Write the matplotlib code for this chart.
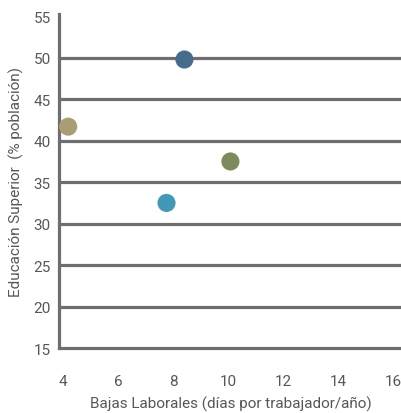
import matplotlib.pyplot as plt

# data
bajas = [4.18, 8.4, 10.07, 7.75]
educacion = [41.7, 49.8, 37.5, 32.5]
colores = ["#aa9d72", "#456c8b", "#7e8a5c", "#3f99b7"]
x_ticks = [4, 6, 8, 10, 12, 14, 16]
y_ticks = [15, 20, 25, 30, 35, 40, 45, 50, 55]

grid_color = "#6f6c72"
text_color = "#58565a"

plt.rcParams["font.family"] = ["Roboto", "DejaVu Sans"]

fig = plt.figure(figsize=(4.02, 4.14), dpi=100)
ax = fig.add_axes([0.147, 0.157, 0.853, 0.807])

for yv in y_ticks[1:-1]:
    ax.axhline(yv, color=grid_color, lw=2.3, zorder=1)

ax.scatter(bajas, educacion, s=170, c=colores, zorder=3, edgecolors="none")

ax.set_xlim(3.85, 16.3)
ax.set_ylim(15, 55.3)
ax.set_xticks(x_ticks)
ax.set_yticks(y_ticks)

for side in ["top", "right"]:
    ax.spines[side].set_visible(False)
for side in ["left", "bottom"]:
    ax.spines[side].set_color(grid_color)
    ax.spines[side].set_linewidth(2.3)

ax.tick_params(axis="both", length=0, colors=text_color, labelsize=11)
ax.tick_params(axis="x", pad=19)
ax.tick_params(axis="y", pad=6)

ax.set_xlabel("Bajas Laborales (días por trabajador/año)", color=text_color,
              fontsize=11, labelpad=5)
ax.set_ylabel("Educación Superior  (% población)", color=text_color,
              fontsize=11, labelpad=7)

fig.savefig("out.png", dpi=100)
